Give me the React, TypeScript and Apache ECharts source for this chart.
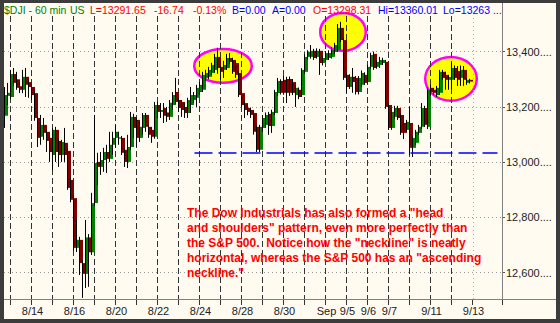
import React, { useEffect, useRef } from 'react';
import * as echarts from 'echarts';

// ---- categories (trading days, 60-min bars) ----
const days = ['8/10', '8/13', '8/14', '8/15', '8/16', '8/17', '8/20', '8/21', '8/22', '8/23', '8/24', '8/27', '8/28', '8/29', '8/30', '8/31', '9/4', '9/5', '9/6', '9/7', '9/10', '9/11', '9/12', '9/13'];
const barsPerDay = [2, 7, 7, 7, 7, 7, 7, 7, 7, 7, 7, 7, 7, 7, 7, 7, 7, 7, 7, 7, 7, 7, 7, 10];
const labeledDays = ['8/14', '8/16', '8/20', '8/22', '8/24', '8/28', '8/30', '9/4', '9/5', '9/6', '9/7', '9/11', '9/13'];
const labelTexts = ['8/14', '8/16', '8/20', '8/22', '8/24', '8/28', '8/30', 'Sep', '9/5', '9/6', '9/7', '9/11', '9/13'];
const futureDay = '9/13';

// ---- OHLC ----
const open = [
  13168, 13240, 13236, 13319, 13300, 13275, 13262, 13309, 13290, 13272,
  13250, 13160, 13092, 13135, 13110, 13088, 13026, 13117, 13077, 13026,
  13070, 13041, 12936, 12870, 12690, 12719, 12635, 12596, 12728, 12674,
  12852, 13001, 12983, 13008, 13037, 13012, 13063, 13088, 13085, 13088,
  13045, 13001, 13055, 13164, 13153, 13088, 13124, 13171, 13128, 13117,
  13092, 13207, 13182, 13196, 13180, 13164, 13207, 13254, 13225, 13218,
  13200, 13178, 13207, 13225, 13233, 13254, 13262, 13305, 13309, 13323,
  13334, 13381, 13345, 13334, 13341, 13377, 13370, 13359, 13323, 13250,
  13214, 13196, 13189, 13178, 13128, 13045, 13124, 13135, 13175, 13131,
  13178, 13250, 13294, 13298, 13301, 13301, 13290, 13243, 13262, 13243,
  13327, 13381, 13381, 13403, 13381, 13403, 13359, 13370, 13377, 13381,
  13399, 13406, 13486, 13442, 13316, 13272, 13309, 13305, 13254, 13280,
  13316, 13290, 13345, 13392, 13345, 13352, 13359, 13363, 13207, 13124,
  13164, 13196, 13171, 13142, 13117, 13142, 13052, 13070, 13106, 13128,
  13196, 13128, 13269, 13262, 13243, 13251, 13327, 13316, 13298, 13298.31,
  13341, 13330, 13305, 13334, 13287, 13298,
];
const high = [
  13272, 13287, 13334, 13341, 13327, 13290, 13334, 13341, 13300, 13282,
  13260, 13165, 13171, 13160, 13120, 13099, 13124, 13128, 13085, 13081,
  13124, 13050, 12945, 12880, 12791, 12730, 12645, 12791, 12740, 12889,
  13171, 13034, 13037, 13052, 13063, 13110, 13110, 13135, 13110, 13095,
  13050, 13099, 13182, 13175, 13160, 13146, 13178, 13178, 13135, 13125,
  13218, 13218, 13214, 13214, 13200, 13225, 13254, 13305, 13233, 13225,
  13212, 13233, 13272, 13254, 13280, 13290, 13327, 13334, 13345, 13360,
  13392, 13414, 13350, 13367, 13392, 13395, 13378, 13366, 13330, 13258,
  13222, 13205, 13198, 13185, 13135, 13135, 13170, 13180, 13182, 13190,
  13262, 13305, 13300, 13312, 13309, 13310, 13300, 13278, 13270, 13340,
  13390, 13405, 13424, 13410, 13412, 13410, 13385, 13402, 13405, 13415,
  13432, 13500, 13508, 13450, 13325, 13318, 13341, 13312, 13312, 13332,
  13325, 13352, 13396, 13400, 13370, 13381, 13378, 13370, 13212, 13190,
  13204, 13204, 13178, 13150, 13153, 13200, 13095, 13117, 13135, 13214,
  13204, 13270, 13280, 13268, 13276, 13334, 13334, 13327, 13316, 13360.01,
  13350, 13348, 13350, 13348, 13305, 13302,
];
const low = [
  13124, 13207, 13229, 13276, 13262, 13250, 13250, 13236, 13233, 13225,
  13150, 13055, 13063, 13081, 13037, 13001, 12972, 13001, 12983, 13001,
  13001, 12900, 12855, 12680, 12675, 12592, 12509, 12545, 12549, 12664,
  12840, 12918, 12954, 12965, 12961, 13001, 13026, 13052, 13063, 13026,
  12983, 12979, 13045, 13088, 13055, 13073, 13099, 13110, 13088, 13070,
  13085, 13160, 13160, 13142, 13146, 13153, 13189, 13211, 13182, 13164,
  13160, 13160, 13178, 13215, 13200, 13243, 13254, 13295, 13300, 13315,
  13325, 13320, 13298, 13305, 13334, 13355, 13320, 13305, 13236, 13200,
  13160, 13170, 13160, 13100, 13037, 13037, 13110, 13125, 13099, 13106,
  13170, 13240, 13245, 13244, 13214, 13240, 13243, 13200, 13228, 13236,
  13320, 13372, 13375, 13370, 13375, 13316, 13350, 13363, 13370, 13375,
  13392, 13400, 13435, 13298, 13251, 13265, 13251, 13245, 13245, 13272,
  13280, 13283, 13338, 13334, 13338, 13341, 13352, 13193, 13117, 13117,
  13157, 13153, 13099, 13084, 13110, 13026, 13019, 13063, 13099, 13120,
  13128, 13120, 13240, 13243, 13236, 13244, 13298, 13262, 13262, 13263,
  13298, 13276, 13276, 13276, 13280, 13285,
];
const close = [
  13243, 13251, 13319, 13287, 13269, 13262, 13309, 13280, 13272, 13243,
  13160, 13088, 13135, 13106, 13077, 13037, 13117, 13037, 13026, 13073,
  13026, 12907, 12864, 12690, 12719, 12635, 12596, 12728, 12674, 12852,
  12997, 12983, 13008, 13037, 13012, 13063, 13088, 13110, 13090, 13034,
  13001, 13055, 13164, 13124, 13088, 13128, 13171, 13128, 13099, 13092,
  13207, 13182, 13189, 13168, 13164, 13215, 13243, 13218, 13196, 13189,
  13178, 13225, 13243, 13243, 13269, 13280, 13316, 13323, 13334, 13352,
  13381, 13341, 13327, 13352, 13377, 13363, 13327, 13316, 13243, 13207,
  13189, 13182, 13171, 13110, 13045, 13128, 13160, 13171, 13131, 13182,
  13254, 13294, 13251, 13251, 13251, 13251, 13251, 13269, 13236, 13334,
  13381, 13399, 13403, 13377, 13403, 13359, 13377, 13395, 13395, 13406,
  13424, 13486, 13442, 13305, 13272, 13309, 13290, 13254, 13305, 13323,
  13287, 13345, 13388, 13341, 13363, 13370, 13370, 13200, 13124, 13182,
  13196, 13160, 13106, 13106, 13146, 13052, 13088, 13110, 13128, 13196,
  13135, 13262, 13254, 13251, 13269, 13327, 13305, 13298, 13308.39, 13341,
  13305, 13298, 13334, 13298, 13298, 13291.65,
];

// ---- axis ----
const yTicks = [12600, 12800, 13000, 13200, 13400];
const yMin = 12505;
const yMax = 13529;

// ---- annotations ----
const necklineValue = 13034;
const necklineSpan = [63, 164]; // bar indices
const ellipseSpans = [[63, 82], [105, 120], [140, 157]]; // bar indices
const ellipseRanges = [[13283, 13414], [13399, 13544], [13218, 13385]]; // price ranges

const headerTexts = ['$DJI - 60 min', 'US', 'L=13291.65', '-16.74', '-0.13%', 'B=0.00', 'A=0.00', 'O=13298.31', 'Hi=13360.01', 'Lo=13263 ...'];
const headerColors = ['#008000', '#008000', '#FF0000', '#FF0000', '#FF0000', '#0000FF', '#0000FF', '#FF0000', '#0000FF', '#0000FF'];
const headerX = [4, 70, 90, 154, 193, 232, 272, 313, 378, 443];

const noteLines = [
  'The Dow Industrials has also formed a "head',
  'and shoulders" pattern, even more perfectly than',
  'the S&P 500.  Notice how the "neckline" is neatly',
  'horizontal, whereas the S&P 500 has an "ascending',
  'neckline."',
];

const FONT = '"Liberation Sans", Arial, sans-serif';

const categories: string[] = [];
days.forEach((d, i) => {
  for (let k = 0; k < barsPerDay[i]; k++) categories.push(`${d} #${k}`);
});
const dayOf = (v: string) => v.split(' #')[0];
const isStart = (v: string) => v.endsWith(' #0');

export default function App() {
  const ref = useRef<HTMLDivElement>(null);

  useEffect(() => {
    if (!ref.current) return;
    const chart = echarts.init(ref.current, null, { renderer: 'svg' });
    const candleData = open.map((o, i) => [i, o, close[i], low[i], high[i]]);
    const ellipseData = ellipseSpans.map((s, i) => [s[0], s[1], ellipseRanges[i][0], ellipseRanges[i][1]]);
    const lastClose = close[close.length - 1];
    const futureIdx = categories.indexOf(`${futureDay} #0`);

    const option: any = {
      animation: false,
      backgroundColor: '#FFFBF0',
      textStyle: { fontFamily: FONT },
      grid: { left: 4, right: 58, top: 16, bottom: 24, containLabel: false, outerBoundsMode: 'none' },
      xAxis: {
        type: 'category',
        data: categories,
        boundaryGap: true,
        z: 2,
        axisLine: { show: false },
        axisTick: {
          show: true,
          length: 6,
          interval: (i: number, v: string) => isStart(v) && dayOf(v) !== days[0],
          lineStyle: { color: '#333', width: 1 },
        },
        axisLabel: {
          interval: (i: number, v: string) => isStart(v) && labeledDays.includes(dayOf(v)),
          formatter: (v: string) => {
            const j = labeledDays.indexOf(dayOf(v));
            return isStart(v) && j >= 0 ? labelTexts[j] : '';
          },
          color: '#222',
          fontSize: 11,
          fontFamily: FONT,
          margin: 6,
        },
        splitLine: {
          show: true,
          interval: (i: number, v: string) => isStart(v) && dayOf(v) !== days[0] && dayOf(v) !== futureDay,
          lineStyle: { color: '#333', type: [6, 3], width: 1 },
        },
      },
      yAxis: {
        type: 'value',
        position: 'right',
        min: yMin,
        max: yMax,
        z: 0,
        axisLine: { show: false },
        axisTick: { show: true, length: 3, customValues: yTicks, lineStyle: { color: '#555' } },
        axisLabel: {
          customValues: yTicks,
          formatter: (v: number) => v.toLocaleString('en-US') + '....',
          color: '#222',
          fontSize: 11,
          fontFamily: FONT,
          margin: 4,
        },
        splitLine: { show: true, lineStyle: { color: '#999', type: [1, 3], width: 1 } },
      },
      series: [
        {
          type: 'custom',
          name: 'highlight',
          z: 1,
          silent: true,
          clip: false,
          data: ellipseData,
          encode: { x: [0, 1], y: [2, 3] },
          renderItem: (params: any, api: any) => {
            const a = api.coord([api.value(0), api.value(2)]);
            const b = api.coord([api.value(1), api.value(3)]);
            const bw = api.size([1, 0])[0];
            const x0 = a[0] - bw / 2 + 1.2;
            const x1 = b[0] + bw / 2 - 1.2;
            const y0 = b[1] + 1.2;
            const y1 = a[1] - 1.2;
            return {
              type: 'ellipse',
              shape: { cx: (x0 + x1) / 2, cy: (y0 + y1) / 2, rx: (x1 - x0) / 2, ry: (y1 - y0) / 2 },
              style: { fill: '#FFFF00', stroke: '#FF00FF', lineWidth: 2.5 },
            };
          },
        },
        {
          type: 'line',
          name: 'marks',
          z: 2,
          silent: true,
          data: close,
          symbol: 'none',
          showSymbol: false,
          lineStyle: { opacity: 0 },
          markLine: {
            silent: true,
            symbol: ['none', 'none'],
            animation: false,
            lineStyle: { color: '#0000FF', type: [18, 6], width: 1.5 },
            label: { show: false },
            data: [
              [
                { coord: [categories[necklineSpan[0]], necklineValue] },
                { coord: [categories[necklineSpan[1]], necklineValue] },
              ],
              {
                xAxis: categories[futureIdx],
                lineStyle: { color: '#aaa', type: [1, 3], width: 1 },
                label: { show: false },
              },
              {
                yAxis: lastClose,
                lineStyle: { opacity: 0 },
                label: {
                  show: true,
                  position: 'end',
                  distance: 1,
                  formatter: () => lastClose.toLocaleString('en-US', { minimumFractionDigits: 2 }),
                  backgroundColor: '#008000',
                  color: '#FFFFFF',
                  padding: [2, 2, 1, 3],
                  fontSize: 11,
                  fontFamily: FONT,
                },
              },
            ],
          },
        },
        {
          type: 'custom',
          name: 'DJI',
          z: 3,
          data: candleData,
          encode: { x: 0, y: [1, 2, 3, 4] },
          renderItem: (params: any, api: any) => {
            const idx = api.value(0);
            const o = api.value(1);
            const c = api.value(2);
            const l = api.value(3);
            const h = api.value(4);
            const pO = api.coord([idx, o]);
            const pC = api.coord([idx, c]);
            const pL = api.coord([idx, l]);
            const pH = api.coord([idx, h]);
            const bw = api.size([1, 0])[0];
            const left = Math.round(pO[0] - bw / 2);
            const up = c >= o;
            const top = Math.min(pO[1], pC[1]);
            const hgt = Math.max(1, Math.abs(pO[1] - pC[1]));
            return {
              type: 'group',
              children: [
                {
                  type: 'rect',
                  shape: { x: left + 1, y: top, width: 3, height: hgt },
                  style: { fill: up ? '#008000' : '#800000' },
                },
                {
                  type: 'line',
                  shape: { x1: left + 0.5, y1: pH[1], x2: left + 0.5, y2: pL[1] },
                  style: { stroke: '#000000', lineWidth: 1 },
                },
              ],
            };
          },
        },
      ],
      graphic: [
        { type: 'line', z: 50, silent: true, shape: { x1: 502.5, y1: 3, x2: 502.5, y2: 299 }, style: { stroke: '#808080', lineWidth: 1 } },
        { type: 'line', z: 50, silent: true, shape: { x1: 4, y1: 299.5, x2: 556, y2: 299.5 }, style: { stroke: '#808080', lineWidth: 1 } },
        { type: 'rect', z: 100, silent: true, shape: { x: 0, y: 0, width: 4, height: 323 }, style: { fill: '#3C3C3C' } },
        { type: 'rect', z: 100, silent: true, shape: { x: 0, y: 0, width: 560, height: 3 }, style: { fill: '#3C3C3C' } },
        { type: 'rect', z: 100, silent: true, shape: { x: 556, y: 0, width: 4, height: 323 }, style: { fill: '#3C3C3C' } },
        { type: 'rect', z: 100, silent: true, shape: { x: 0, y: 319, width: 560, height: 4 }, style: { fill: '#3C3C3C' } },
        ...headerTexts.map((t, i) => ({
          type: 'text',
          z: 60,
          silent: true,
          x: headerX[i],
          y: 10,
          style: { text: t, fill: headerColors[i], font: `10.5px ${FONT}`, verticalAlign: 'middle', textVerticalAlign: 'middle' },
        })),
        {
          type: 'text',
          z: 60,
          silent: true,
          x: 187,
          y: 205,
          style: { text: noteLines.join('\n'), fill: '#FF0000', font: `bold 12px ${FONT}`, lineHeight: 15 },
        },
      ],
    };
    chart.setOption(option);
    return () => chart.dispose();
  }, []);

  return (
    <div
      ref={ref}
      style={{ position: 'fixed', left: 0, top: 0, width: 560, height: 323 }}
    />
  );
}
